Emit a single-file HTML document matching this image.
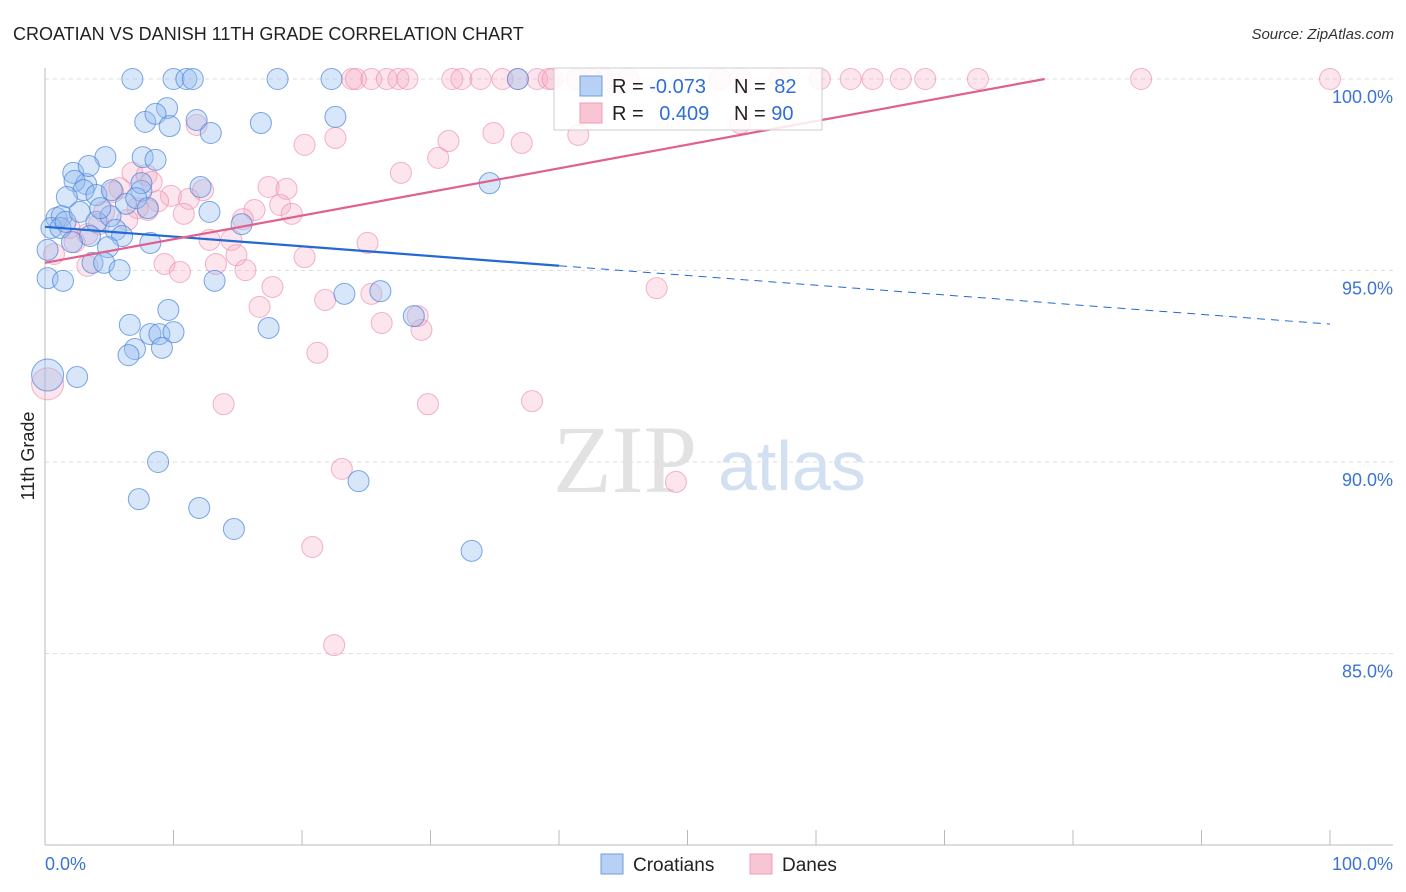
<!DOCTYPE html>
<html><head><meta charset="utf-8"><style>
body{margin:0;background:#fff;font-family:"Liberation Sans",sans-serif;}
svg{display:block}
</style></head><body>
<svg id="chart" width="1406" height="892">
<text x="13" y="40" font-size="18" fill="#222">CROATIAN VS DANISH 11TH GRADE CORRELATION CHART</text>
<text x="1394" y="39" font-size="15" font-style="italic" fill="#333" text-anchor="end">Source: ZipAtlas.com</text>
<text transform="translate(34,456) rotate(-90)" font-size="18" fill="#222" text-anchor="middle">11th Grade</text>
<g>
<text x="553" y="492" font-size="96" font-family="Liberation Serif,serif" fill="#e2e2e2">ZIP</text>
<text x="718" y="490" font-size="70" fill="#d3e0f2">atlas</text>
</g>
<g id="grid"></g><g id="marks"></g><g id="trend"></g>
<g>
<rect x="554" y="68" width="268" height="62" fill="#fff" fill-opacity="0.85" stroke="#ccc"/>
<rect x="580" y="76" width="22" height="20" fill="#b7d0f3" stroke="#6f9de0"/>
<rect x="580" y="103" width="22" height="20" fill="#f9c4d4" stroke="#ef9cb6"/>
<text x="612" y="93" font-size="20" fill="#222">R = <tspan fill="#2f6ed6">-0.073</tspan></text>
<text x="734" y="93" font-size="20" fill="#222">N = <tspan fill="#2f6ed6" dx="3">82</tspan></text>
<text x="612" y="120" font-size="20" fill="#222">R = <tspan fill="#2f6ed6" dx="10">0.409</tspan></text>
<text x="734" y="120" font-size="20" fill="#222">N = <tspan fill="#2f6ed6">90</tspan></text>
</g>
<g>
<rect x="601" y="854" width="22" height="20" fill="#b7d0f3" stroke="#6f9de0"/>
<text x="633" y="871" font-size="19" fill="#222">Croatians</text>
<rect x="750" y="854" width="22" height="20" fill="#f9c4d4" stroke="#ef9cb6"/>
<text x="782" y="871" font-size="19" fill="#222">Danes</text>
</g>
</svg>
<script>
const yTicks=[100,95,90,85];
const yTickLabels=["100.0%","95.0%","90.0%","85.0%"];
const xTicks=[0,10,20,30,40,50,60,70,80,90,100];
const blueX=[6.8,10.0,11.0,11.5,18.1,22.3,36.8,9.5,7.8,8.6,9.7,11.8,12.9,16.8,22.6,4.7,7.6,8.6,2.2,3.2,3.4,2.3,3.0,4.0,1.7,5.2,7.5,7.5,12.1,34.6,12.8,15.3,0.9,1.3,0.5,1.2,1.6,2.7,4.0,5.1,6.3,7.1,8.0,4.3,5.5,6.0,3.5,2.1,4.9,8.2,0.2,3.7,4.6,5.8,0.2,1.4,13.2,23.3,26.1,28.7,9.6,6.6,8.2,8.9,10.0,17.4,7.0,6.5,9.1,0.2,2.5,8.8,7.3,24.4,12.0,14.7,33.2];
const blueY=[100,100,100,100,100,100,100,99.24,98.88,99.09,98.77,98.93,98.59,98.85,99.01,97.96,97.96,97.89,97.55,97.26,97.73,97.34,97.10,96.97,96.92,97.10,97.08,97.28,97.18,97.28,96.53,96.21,96.37,96.42,96.11,96.11,96.27,96.53,96.27,96.42,96.74,96.89,96.63,96.63,96.06,95.90,95.90,95.74,95.61,95.72,95.54,95.20,95.20,95.01,94.80,94.73,94.73,94.39,94.46,93.81,93.97,93.58,93.34,93.34,93.39,93.50,92.95,92.79,92.98,92.27,92.22,90.00,89.03,89.50,88.80,88.25,87.68];
const pinkX=[23.9,24.2,25.4,26.6,27.5,28.2,31.7,32.4,33.9,35.6,36.8,38.3,39.2,39.5,41.4,42.4,43.6,45.4,52.5,54.1,57.2,60.3,62.7,64.4,66.6,68.5,72.6,85.3,100,11.8,54.1,22.6,20.2,31.4,34.9,37.1,41.5,30.6,27.7,6.8,7.9,8.3,5.8,5.3,9.8,11.2,12.3,17.4,18.8,18.3,19.2,16.3,15.4,10.8,8.8,8.0,7.2,4.6,6.4,4.2,3.3,1.9,0.7,2.3,12.8,14.5,14.9,20.2,25.1,9.3,10.5,13.3,15.6,3.3,17.7,16.7,21.8,25.4,26.2,29.3,29.0,47.6,21.2,13.9,29.8,37.9,23.1,49.1,20.8,22.5,0.2];
const pinkY=[100,100,100,100,100,100,100,100,100,100,100,100,100,100,100,100,100,100,100,100,100,100,100,100,100,100,100,100,100,98.80,98.85,98.46,98.28,98.38,98.59,98.33,98.54,97.94,97.55,97.55,97.49,97.31,97.15,97.05,96.95,96.87,97.10,97.18,97.13,96.71,96.48,96.58,96.34,96.48,96.81,96.58,96.63,96.53,96.32,96.21,95.95,96.11,95.43,95.74,95.80,95.80,95.40,95.35,95.72,95.17,94.96,95.17,95.01,95.12,94.57,94.05,94.23,94.39,93.63,93.45,93.81,94.54,92.85,91.51,91.51,91.59,89.82,89.48,87.78,85.22,92.04];
const blueTrend=[96.14,-0.0254];
const pinkTrend=[95.20,0.0617];
const X0=45,X1=1330,Y100=79,PX_PER=38.3;
const sx=v=>X0+(X1-X0)*v/100;
const sy=v=>Y100+(100-v)*PX_PER;
const NS="http://www.w3.org/2000/svg";
function mk(tag,attrs,parent){const e=document.createElementNS(NS,tag);for(const k in attrs)e.setAttribute(k,attrs[k]);parent.appendChild(e);return e;}
const grid=document.getElementById('grid');
yTicks.forEach((t,i)=>{
 const l=mk('line',{x1:45,x2:1393,y1:sy(t),y2:sy(t),stroke:'#ddd','stroke-dasharray':'4,4'},grid);
 
 
 const tx=mk('text',{x:1393,y:sy(t)+24,'font-size':18,fill:'#3b74d4','text-anchor':'end'},grid);
 tx.textContent=yTickLabels[i];
 
 
});
const ax=mk('line',{x1:45,x2:45,y1:68,y2:845,stroke:'#bbb'},grid);


const bx=mk('line',{x1:45,x2:1393,y1:845,y2:845,stroke:'#bbb'},grid);


xTicks.forEach(t=>{
 const l=mk('line',{x1:sx(t),x2:sx(t),y1:830,y2:845,stroke:'#bbb'},grid);
 
 
});
[[0,'0.0%','start',45],[100,'100.0%','end',1393]].forEach(a=>{
 const tx=mk('text',{x:a[3],y:870,'font-size':18,fill:'#3b74d4','text-anchor':a[2]},grid);
 tx.textContent=a[1];
 
 
});
const marks=document.getElementById('marks');
function drawPts(xs,ys,fill,stroke,name){
 xs.forEach((x,i)=>{
  const big=(x<=0.3&&ys[i]<92.5);
  const c=mk('circle',{cx:sx(x),cy:sy(ys[i]),r:big?16:10.5,fill:fill,stroke:stroke,'stroke-width':1},marks);
  
  
 });
}
drawPts(pinkX,pinkY,'rgba(246,170,196,0.3)','rgba(236,140,172,0.65)','dane-point');
drawPts(blueX,blueY,'rgba(150,190,240,0.38)','rgba(70,130,220,0.7)','croatian-point');
const tr=document.getElementById('trend');
const bl=mk('line',{x1:sx(0),y1:sy(blueTrend[0]),x2:sx(40),y2:sy(blueTrend[0]+blueTrend[1]*40),stroke:'#2468d4','stroke-width':2.2},tr);


const bd=mk('line',{x1:sx(40),y1:sy(blueTrend[0]+blueTrend[1]*40),x2:sx(100),y2:sy(blueTrend[0]+blueTrend[1]*100),stroke:'#2468d4','stroke-width':1,'stroke-dasharray':'8,6'},tr);


const pEnd=(100-pinkTrend[0])/pinkTrend[1];
const pl=mk('line',{x1:sx(0),y1:sy(pinkTrend[0]),x2:sx(pEnd),y2:sy(100),stroke:'#e0608e','stroke-width':2.2},tr);


</script>
</body></html>
